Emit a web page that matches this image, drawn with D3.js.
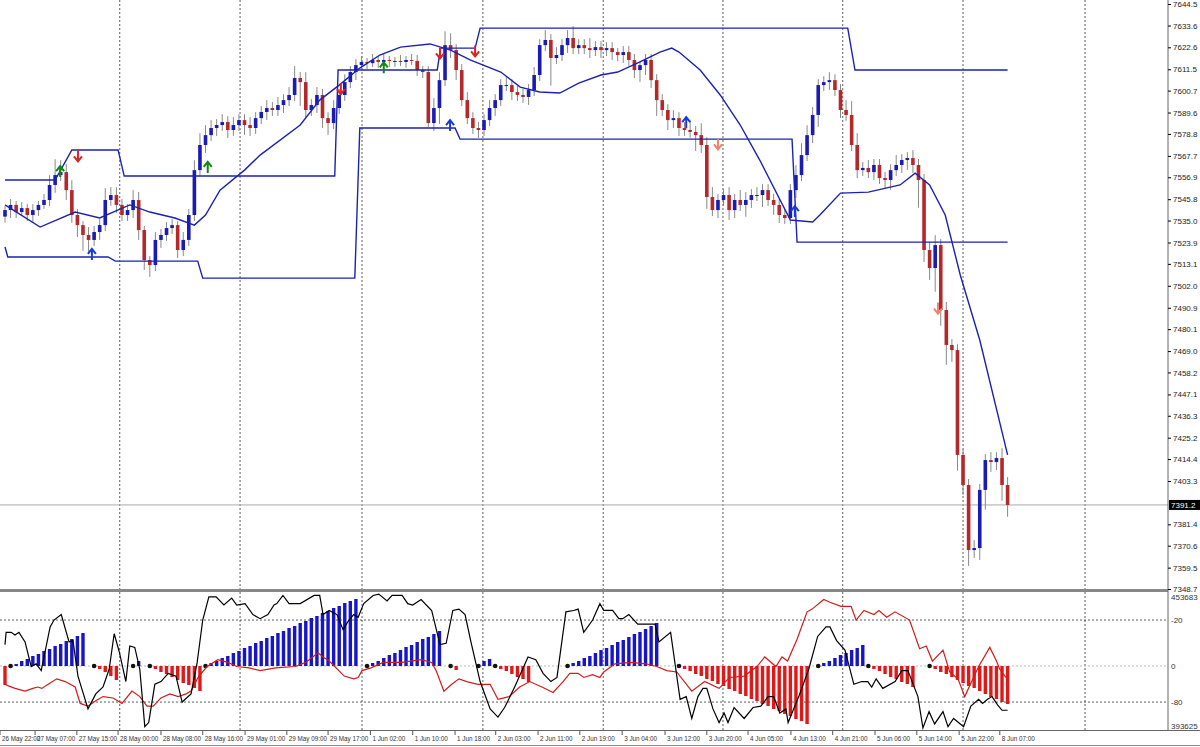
<!DOCTYPE html>
<html><head><meta charset="utf-8">
<script src="https://cdn.jsdelivr.net/npm/d3@7"></script>
<style>body{margin:0;background:#fff}svg{display:block}text{font-family:"Liberation Sans",Arial,sans-serif;fill:#222}</style>
</head><body><svg id="c" width="1200" height="747"></svg>
<script>
const firstOpen = 7537.0;
const closes = [7540.3,7542.9,7539.3,7541.3,7537.8,7540.3,7542.9,7545.4,7553.0,7558.0,
7559.5,7550.4,7537.8,7532.7,7527.7,7525.2,7529.2,7532.7,7545.4,7547.9,
7542.9,7537.8,7540.3,7545.4,7530.2,7515.0,7512.5,7525.2,7527.7,7531.2,
7532.7,7520.1,7525.2,7537.8,7560.5,7573.2,7578.2,7581.8,7583.3,7584.8,
7580.8,7583.3,7585.8,7583.3,7581.8,7586.8,7589.9,7591.9,7590.9,7593.4,
7595.9,7598.5,7607.1,7605.0,7590.9,7593.4,7598.5,7586.8,7584.3,7591.9,
7598.5,7605.0,7610.1,7613.6,7615.2,7614.6,7616.2,7615.2,7616.2,7615.7,
7615.7,7615.2,7616.2,7615.7,
7611.1,7610.1,7584.3,7591.9,7606.0,7623.7,7621.2,7611.1,7595.9,7586.8,
7581.8,7580.8,7585.8,7591.9,7595.9,7603.5,7603.5,7600.0,7598.5,7597.5,
7601.0,7608.6,7623.7,7626.3,7617.2,7618.7,7623.7,7627.3,7622.2,7623.7,
7622.2,7621.2,7622.7,7621.2,7622.2,7620.2,7618.7,7620.2,7616.2,7611.1,
7613.6,7616.2,7606.0,7595.9,7590.9,7585.8,7586.8,7581.8,7580.8,7579.8,
7578.2,7573.2,7546.9,7540.3,7545.4,7547.9,7540.3,7545.4,7542.9,7545.4,
7547.9,7547.9,7550.4,7545.4,7542.9,7537.8,7536.3,7550.4,7558.0,7568.1,
7578.2,7588.4,7603.5,7605.0,7606.0,7601.0,7590.9,7588.4,7573.2,7560.5,
7561.6,7559.5,7563.1,7556.5,7555.5,7560.5,7563.1,7565.6,7566.6,7563.1,
7555.5,7520.1,7511.0,7522.6,7489.8,7472.1,7469.5,7416.5,7401.3,7368.4,
7369.4,7398.8,7413.9,7412.9,7414.9,7401.3,7391.2];
const wickUp = [2,3,2,3,2,3,2,3,5,8, 6,4,5,3,2,4,3,3,6,4, 4,3,3,5,4,2,2,4,3,3, 3,2,4,3,5,6,5,4,3,4,
3,4,3,3,4,3,3,4,3,4, 3,4,6,3,5,3,4,3,3,4, 3,4,3,3,3,2,3,2,3,2, 2,3,2,3,
3,2,3,5,4,7,6,3,3,4, 3,3,3,4,3,3,4,3,3,3, 3,4,3,5,3,4,3,4,6,3, 3,5,3,3,3,3,2,3,3,3,
2,3,3,3,3,3,4,3,3,5, 3,6,4,5,3,3,4,3,5,4, 3,4,3,3,3,3,3,3,5,6, 5,4,3,3,4,3,3,5,7,6,
3,4,3,3,3,3,5,3,3,4, 3,3,4,5,3,4,3,3,3,3, 4,3,3,4,3,5,4,6,3,4,2];
const wickDn = [3,4,3,2,3,4,3,2,3,4, 3,5,4,6,8,6,3,4,3,3, 4,3,3,4,5,5,6,3,4,3, 3,4,3,3,3,3,4,3,4,3,
4,3,3,5,4,3,3,4,3,3, 4,3,3,12,4,3,4,5,6,3, 3,3,3,4,2,3,2,3,2,3, 3,2,3,2,
3,3,2,4,8,3,4,5,3,3, 3,4,3,3,4,3,3,4,3,3, 4,3,3,3,14,3,3,4,3,3, 3,4,3,4,3,4,3,4,3,4,
6,5,4,8,3,5,4,4,3,3, 8,4,6,3,4,3,5,4,3,6, 4,3,6,3,5,4,3,3,4,3, 3,4,6,3,4,3,4,3,3,4,
3,3,4,3,4,5,3,4,5,4, 14,6,6,12,8,10,6,8,5,8,4,6,10,5,4,8,6];
const maLine = [[0,7542.9],[6.3,7531.7],[12.6,7539.3],[17,7536.3],[22.4,7542.9],[26,7539.3],[30.5,7536.3],[34,7532.7],[36,7537.8],[38.6,7550.4],[43,7560.5],[45.8,7568.1],[53,7583.3],[56.5,7595.9],[60,7603.5],[63.7,7612.1],[67.3,7618.7],[71,7622.7],[76.3,7624.3],[80,7621.2],[83.5,7616.2],[89,7610.1],[92.5,7602.5],[96,7600.0],[99.6,7599.5],[103,7604.5],[107,7608.6],[110,7610.1],[114,7615.2],[117.6,7620.2],[119.7,7622.2],[121,7620.2],[124.8,7611.1],[128.4,7598.5],[132,7583.3],[135.5,7565.6],[141,7535.3],[145,7534.3],[146.3,7537.8],[150,7548.9],[155,7549.4],[160.7,7553.0],[163.4,7559.0],[166,7553.0],[168.8,7537.8],[171.5,7507.5],[175,7474.6],[180,7416.5]];
const upperBand = [[0,7555.5],[9,7555.5],[12,7570.7],[20.3,7570.7],[21.4,7557.5],[59.2,7557.5],[59.8,7611.1],[77.6,7611.1],[78.2,7622.2],[84.4,7622.2],[85.3,7632.3],[151.3,7632.3],[152.6,7611.1],[180,7611.1]];
const lowerBand = [[0,7521.6],[0.5,7516.6],[18.5,7516.6],[19.8,7514.5],[34.6,7514.5],[35.5,7505.9],[62.8,7505.9],[63.7,7581.8],[80.8,7581.8],[81.7,7576.2],[141.3,7576.2],[142.2,7524.1],[180,7524.1]];
const signals = [[9.9,7559.5,"upG"],[36.4,7561.6,"upG"],[68,7612,"upG"],[15.6,7517.6,"upB"],[79.9,7582.8,"upB"],[122.3,7584.3,"upB"],[141.8,7539.3,"upB"],
[13.1,7568,"dnR"],[60.3,7602,"dnR"],[78.1,7620,"dnR"],[84.4,7621,"dnR"],[128,7574,"dnL"],[167.5,7491,"dnL"]];
const hist = [-19,0,2,5,7,10,12,15,17,20,22,25,27,30,33,0,0,-3,-6,-10,-14,0,0,0,5,0,0,
-3,-6,-8,-11,-14,-17,-19,-22,-25,0,
3,5,8,10,13,15,18,20,23,25,28,30,33,35,38,40,43,45,48,50,53,55,58,60,63,65,67,0,0,
3,5,8,11,13,16,19,21,24,27,29,32,35,0,0,-4,0,0,0,0,5,7,0,
-3,-5,-8,-11,-13,-16,0,0,0,0,0,0,0,
3,5,8,10,13,16,18,21,24,26,29,32,34,37,40,43,0,0,0,0,
-3,-5,-8,-10,-13,-15,-18,-20,-23,-25,-28,-30,-33,-35,-38,-40,-43,-45,-48,-50,-53,-55,-58,0,0,
3,5,8,11,13,16,18,21,0,-3,-5,-8,-11,-13,-16,-18,-21,0,0,0,
-3,-6,-8,-11,-14,-17,-20,-22,-25,-28,-31,-33,-36,-38];
const histDots = [1,16,23,26,36,65,80,85,88,101,121,146,155,166];
const blackLine = [[0,-38],[0.2,-29],[1.1,-29],[1.8,-31],[2.5,-29],[3.6,-36],[4.7,-54],[5.6,-52],[6.5,-57],[8.1,-25],[8.8,-20],[10.1,-16],[11.5,-36],[12.2,-35],[13.1,-61],[14.9,-85],[16.3,-74],[17.6,-69],[18.7,-56],[19.6,-30],[20.5,-43],[21.7,-65],[22.4,-39],[23.3,-40],[24.2,-56],[25.1,-98],[25.8,-95],[26.9,-67],[28,-65],[29.3,-59],[30.7,-61],[31.8,-80],[33.4,-74],[34.5,-51],[35.5,-20],[36.6,-3],[37.9,-3],[39.3,-9],[40.7,-4],[41.6,-9],[43.1,-8],[44.5,-16],[45.8,-19],[47.2,-16],[48.3,-9],[48.8,-8],[49.9,-2],[51,-8],[53,-8],[55.5,-2],[56.5,-2],[57.1,-16],[58.2,-13],[59.6,-16],[60.7,-27],[61.6,-21],[62.6,-16],[63.4,-18],[64.4,-8],[66.1,-2],[67.1,-1],[68.6,-6],[69.5,-2],[71.3,-2],[72.3,-8],[73.2,-9],[74.7,-5],[76.6,-13],[78.1,-38],[79.2,-37],[80.4,-13],[81.5,-12],[82.6,-16],[83.6,-35],[85.3,-65],[87.1,-85],[88.5,-91],[89.7,-84],[91.5,-69],[93.9,-47],[95.3,-49],[96.6,-59],[98,-65],[99.1,-62],[100.7,-14],[102.1,-13],[102.9,-12],[103.9,-29],[105.5,-20],[106.8,-8],[107.5,-13],[109.1,-13],[110.2,-19],[110.9,-19],[112,-16],[113.6,-23],[115.8,-23],[116.7,-23],[117.4,-36],[119.5,-29],[121.2,-78],[122.3,-76],[123.3,-92],[124.4,-76],[125.3,-70],[126,-70],[127.1,-85],[128.2,-95],[129.1,-88],[129.8,-95],[130.9,-84],[132.7,-92],[134.3,-84],[135.7,-83],[137,-76],[138,-76],[139.1,-88],[140.2,-85],[140.6,-95],[142.5,-76],[144.3,-56],[145.9,-32],[147.4,-25],[148.1,-25],[149.3,-35],[150.8,-42],[152.4,-67],[153.8,-65],[154.9,-65],[155.6,-69],[156.4,-63],[157.6,-70],[159.8,-65],[161,-57],[162.1,-57],[163.9,-76],[164.8,-99],[165.9,-87],[166.9,-96],[168.4,-87],[169.3,-98],[170.3,-92],[172.1,-98],[173.4,-83],[174.8,-78],[175.5,-81],[176.4,-78],[177.2,-76],[178.2,-82],[179,-86],[180,-86]];
const redLine = [[0,-67],[0.5,-68],[1.8,-70],[3.6,-72],[5,-70],[5.9,-69],[6.6,-70],[8.1,-66],[9.3,-63],[10.8,-65],[12.6,-69],[13.5,-81],[14.9,-83],[16.3,-79],[17.6,-76],[19.4,-77],[21,-81],[22.8,-72],[24.2,-76],[25.5,-83],[26.6,-83],[28,-77],[29.6,-74],[31.1,-76],[32.5,-74],[33.4,-72],[34.8,-61],[36.3,-54],[38.2,-49],[40,-51],[41.6,-54],[43.8,-55],[45.8,-57],[48.6,-55],[52.1,-54],[54,-51],[56.2,-44],[57.1,-47],[58.2,-50],[59.2,-54],[60.9,-61],[62.6,-63],[63.4,-62],[64.1,-57],[65.7,-55],[67.9,-51],[71.3,-51],[74.7,-49],[76.6,-51],[77.4,-57],[78.8,-72],[80.2,-67],[81.5,-63],[82.9,-65],[84.9,-67],[87.1,-67],[88.5,-78],[90.5,-76],[92.4,-69],[94.2,-65],[96.4,-69],[98.4,-73],[100.2,-65],[101.4,-59],[102.9,-59],[103.9,-62],[105.5,-60],[106.8,-62],[107.5,-58],[109.5,-52],[112.4,-51],[115.1,-52],[117,-54],[118.8,-57],[120.6,-58],[123.3,-72],[125.6,-65],[128.2,-70],[130.1,-62],[132.7,-61],[135,-54],[136.4,-47],[138.4,-54],[139.5,-47],[140.5,-50],[142.2,-34],[144,-14],[144.9,-12],[147,-5],[148.1,-7],[150.1,-10],[151.9,-10],[152.8,-20],[154.2,-13],[156,-16],[156.9,-13],[158.3,-18],[159.8,-14],[162.4,-20],[164.2,-41],[165.4,-39],[166.5,-50],[168.4,-42],[169.6,-58],[171.1,-63],[172.3,-76],[174.8,-54],[176.8,-40],[177.9,-49],[178.6,-56],[179.7,-62]];
const priceTicks = [7644.5,7633.6,7622.6,7611.5,7600.7,7589.6,7578.8,7567.7,7556.9,7545.8,7535.0,7523.9,7513.1,7502.0,7490.9,7480.1,7469.0,7458.2,7447.1,7436.3,7425.2,7414.4,7403.3,7381.4,7370.6,7359.5,7348.7];
const timeLabels = ["26 May 22:00","27 May 07:00","27 May 15:00","28 May 00:00","28 May 08:00","28 May 16:00","29 May 01:00","29 May 09:00","29 May 17:00","1 Jun 02:00","1 Jun 10:00","1 Jun 18:00","2 Jun 03:00","2 Jun 11:00","2 Jun 19:00","3 Jun 04:00","3 Jun 12:00","3 Jun 20:00","4 Jun 05:00","4 Jun 13:00","4 Jun 21:00","5 Jun 06:00","5 Jun 14:00","5 Jun 22:00","8 Jun 07:00"];
const timeIdx = [-0.9,5.4,12.9,20.3,28,35.5,43.1,50.6,58,65.6,73.2,80.8,88.1,95.7,103.2,110.8,118.5,126,133.4,141.1,148.6,156.2,163.7,171.3,178.6];
const gridIdx = [20.6,42.2,64.1,85.8,107.4,128.9,150.4,172,193.9];

const svg = d3.select("#c");
const W = 1168;
const x = d3.scaleLinear().domain([0,180]).range([5,1007.6]);
const y = d3.scaleLinear().domain([7348.7,7644.5]).range([589,4]);
const yo = d3.scaleLinear().domain([-100,0]).range([729.4,592.7]);
const yh = d3.scaleLinear().domain([-64,74]).range([730,592]);

const g = svg.append("g");
gridIdx.forEach(i=>{
  g.append("line").attr("x1",x(i)).attr("x2",x(i)).attr("y1",0).attr("y2",730).attr("stroke","#333").attr("stroke-dasharray","2,2").attr("stroke-width",0.8);
});
[-20,-80].forEach(v=>g.append("line").attr("x1",0).attr("x2",W).attr("y1",yo(v)).attr("y2",yo(v)).attr("stroke","#333").attr("stroke-dasharray","2,2").attr("stroke-width",0.8));
g.append("line").attr("x1",0).attr("x2",W).attr("y1",yh(0)).attr("y2",yh(0)).attr("stroke","#bbb").attr("stroke-dasharray","2,2");

const last = closes[closes.length-1];
svg.append("line").attr("x1",0).attr("x2",W).attr("y1",y(last)).attr("y2",y(last)).attr("stroke","#aaa");

const candles = closes.map((c,i)=>{const o=i?closes[i-1]:firstOpen;return {i,o,c,h:Math.max(o,c)+(wickUp[i]??3),l:Math.min(o,c)-(wickDn[i]??3)};});
const cg = svg.append("g");
cg.selectAll("line.w").data(candles).join("line").attr("x1",d=>x(d.i)).attr("x2",d=>x(d.i)).attr("y1",d=>y(d.h)).attr("y2",d=>y(d.l)).attr("stroke","#888");
cg.selectAll("rect").data(candles).join("rect").attr("x",d=>x(d.i)-1.8).attr("width",3.6)
 .attr("y",d=>y(Math.max(d.o,d.c))).attr("height",d=>Math.max(1,Math.abs(y(d.o)-y(d.c))))
 .attr("fill",d=>d.c>=d.o?"#1a1ab4":"#b4282a");

const ln = d3.line().x(d=>x(d[0])).y(d=>y(d[1]));
[maLine,upperBand,lowerBand].forEach(a=>svg.append("path").attr("d",ln(a)).attr("fill","none").attr("stroke","#1c22b0").attr("stroke-width",1.4));

const colors={upG:"#118811",upB:"#1a3ad8",dnR:"#dd2222",dnL:"#f08070"};
signals.forEach(([i,p,t])=>{
  const cx=x(i), cy=y(p), up=t.startsWith("up"), s=up?1:-1;
  svg.append("path").attr("d",`M${cx},${cy-6*s} L${cx},${cy+5*s} M${cx-4},${cy-1*s} L${cx},${cy-6*s} L${cx+4},${cy-1*s}`)
   .attr("fill","none").attr("stroke",colors[t]).attr("stroke-width",2);
});

svg.append("rect").attr("x",0).attr("y",589).attr("width",W).attr("height",3).attr("fill","#888");
svg.append("line").attr("x1",W).attr("x2",W).attr("y1",0).attr("y2",731).attr("stroke","#666");
svg.append("line").attr("x1",0).attr("x2",1200).attr("y1",730.5).attr("y2",730.5).attr("stroke","#666");
svg.append("line").attr("x1",0).attr("x2",1200).attr("y1",745.5).attr("y2",745.5).attr("stroke","#888");

const ax = svg.append("g").attr("transform",`translate(${W},0)`).call(d3.axisRight(y).tickValues(priceTicks).tickSize(3).tickFormat(d3.format(".1f")));
ax.select(".domain").remove();
ax.selectAll("text").style("font-size","8px").attr("fill","#333").attr("x",5);
svg.append("rect").attr("x",W+1).attr("y",y(last)-5).attr("width",31).attr("height",10).attr("fill","#000");
svg.append("text").attr("x",W+3).attr("y",y(last)+3.5).style("font-size","8px").style("fill","#fff").text(last.toFixed(1));

const hg = svg.append("g");
hist.forEach((v,i)=>{ if(!v) return;
  hg.append("rect").attr("x",x(i)-1.7).attr("width",3.4).attr("y",Math.min(yh(0),yh(v))).attr("height",Math.abs(yh(v)-yh(0))).attr("fill",v>0?"#1616c8":"#e01818");
});
histDots.forEach(i=>hg.append("circle").attr("cx",x(i)).attr("cy",yh(0)).attr("r",2.3).attr("fill","#111"));
const lo = d3.line().x(d=>x(d[0])).y(d=>yo(d[1]));
svg.append("path").attr("d",lo(redLine)).attr("fill","none").attr("stroke","#d01c1c").attr("stroke-width",1.2);
svg.append("path").attr("d",lo(blackLine)).attr("fill","none").attr("stroke","#000").attr("stroke-width",1.2);
const il = [["453683",597],["-20",yo(-20)],["0",yh(0)],["-80",yo(-80)],["393625",726]];
il.forEach(([t,yy])=>svg.append("text").attr("x",W+3).attr("y",yy+3).style("font-size","8px").style("fill","#333").text(t));

timeLabels.forEach((t,k)=>{
  const xx = Math.max(0,x(timeIdx[k]));
  svg.append("line").attr("x1",xx).attr("x2",xx).attr("y1",731).attr("y2",735).attr("stroke","#555");
  svg.append("text").attr("x",xx+2).attr("y",741).style("font-size","6.3px").style("fill","#333").text(t);
});
</script></body></html>
